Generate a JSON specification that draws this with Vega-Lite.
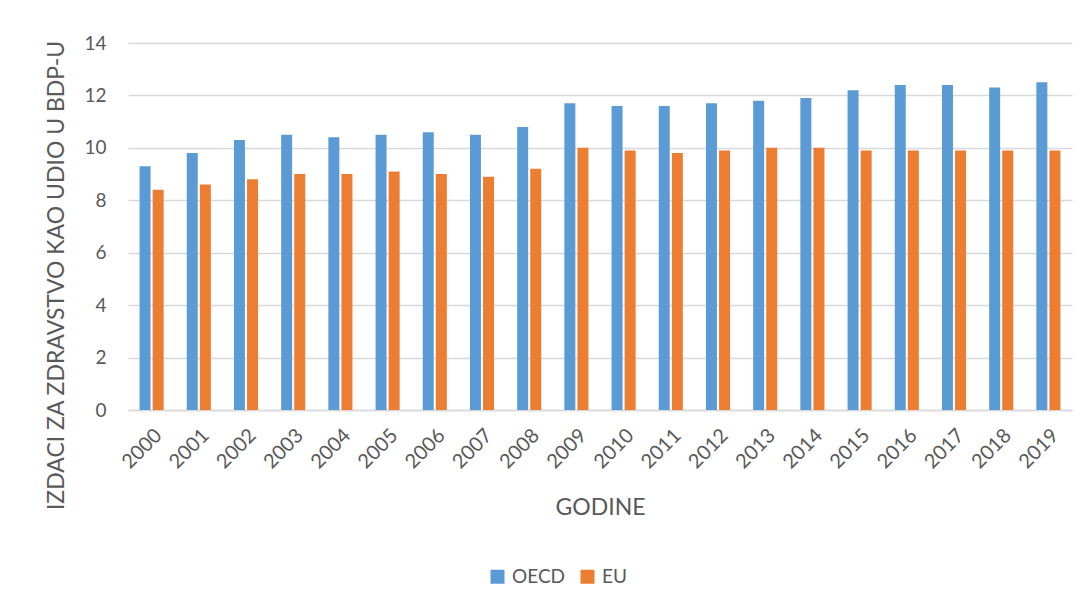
{
  "$schema": "https://vega.github.io/schema/vega-lite/v6.json",
  "autosize": "none",
  "width": 944,
  "height": 367,
  "padding": {"left": 128, "top": 43, "right": 19, "bottom": 198},
  "background": "white",
  "config": {
    "view": {"stroke": null},
    "font": "Lato",
    "axis": {"labelColor": "#595959", "titleColor": "#595959", "labelFont": "Lato", "titleFont": "Lato", "titleFontWeight": "normal"},
    "legend": {"labelColor": "#595959", "labelFont": "Lato"}
  },
  "data": {
    "values": [
      {"year": "2000", "series": "OECD", "value": 9.3}, {"year": "2000", "series": "EU", "value": 8.4},
      {"year": "2001", "series": "OECD", "value": 9.8}, {"year": "2001", "series": "EU", "value": 8.6},
      {"year": "2002", "series": "OECD", "value": 10.3}, {"year": "2002", "series": "EU", "value": 8.8},
      {"year": "2003", "series": "OECD", "value": 10.5}, {"year": "2003", "series": "EU", "value": 9.0},
      {"year": "2004", "series": "OECD", "value": 10.4}, {"year": "2004", "series": "EU", "value": 9.0},
      {"year": "2005", "series": "OECD", "value": 10.5}, {"year": "2005", "series": "EU", "value": 9.1},
      {"year": "2006", "series": "OECD", "value": 10.6}, {"year": "2006", "series": "EU", "value": 9.0},
      {"year": "2007", "series": "OECD", "value": 10.5}, {"year": "2007", "series": "EU", "value": 8.9},
      {"year": "2008", "series": "OECD", "value": 10.8}, {"year": "2008", "series": "EU", "value": 9.2},
      {"year": "2009", "series": "OECD", "value": 11.7}, {"year": "2009", "series": "EU", "value": 10.0},
      {"year": "2010", "series": "OECD", "value": 11.6}, {"year": "2010", "series": "EU", "value": 9.9},
      {"year": "2011", "series": "OECD", "value": 11.6}, {"year": "2011", "series": "EU", "value": 9.8},
      {"year": "2012", "series": "OECD", "value": 11.7}, {"year": "2012", "series": "EU", "value": 9.9},
      {"year": "2013", "series": "OECD", "value": 11.8}, {"year": "2013", "series": "EU", "value": 10.0},
      {"year": "2014", "series": "OECD", "value": 11.9}, {"year": "2014", "series": "EU", "value": 10.0},
      {"year": "2015", "series": "OECD", "value": 12.2}, {"year": "2015", "series": "EU", "value": 9.9},
      {"year": "2016", "series": "OECD", "value": 12.4}, {"year": "2016", "series": "EU", "value": 9.9},
      {"year": "2017", "series": "OECD", "value": 12.4}, {"year": "2017", "series": "EU", "value": 9.9},
      {"year": "2018", "series": "OECD", "value": 12.3}, {"year": "2018", "series": "EU", "value": 9.9},
      {"year": "2019", "series": "OECD", "value": 12.5}, {"year": "2019", "series": "EU", "value": 9.9}
    ]
  },
  "mark": {"type": "bar"},
  "encoding": {
    "x": {
      "field": "year", "type": "nominal",
      "scale": {"paddingInner": 0.49, "paddingOuter": 0.245},
      "axis": {
        "title": "GODINE", "titleFontSize": 23, "titleY": 104, "titleBaseline": "alphabetic",
        "labelAngle": -45, "labelFontSize": 20, "labelPadding": 15,
        "ticks": false, "domainColor": "#D9D9D9", "domainWidth": 1.5
      }
    },
    "xOffset": {"field": "series", "type": "nominal", "sort": ["OECD", "EU"], "scale": {"paddingInner": 0.16}},
    "y": {
      "field": "value", "type": "quantitative",
      "scale": {"domain": [0, 14], "nice": false},
      "axis": {
        "title": "IZDACI ZA ZDRAVSTVO KAO UDIO U BDP-U", "titleFontSize": 23,
        "titleX": -60, "titleY": 232, "titleAlign": "center", "titleBaseline": "bottom", "titleAngle": 270,
        "values": [0, 2, 4, 6, 8, 10, 12, 14], "labelFontSize": 19, "labelPadding": 22,
        "ticks": false, "domain": false, "gridColor": "#D9D9D9", "gridWidth": 1.5
      }
    },
    "color": {
      "field": "series", "type": "nominal", "sort": ["OECD", "EU"],
      "scale": {"domain": ["OECD", "EU"], "range": ["#5B9BD5", "#ED7D31"]},
      "legend": {
        "title": null, "orient": "none", "direction": "horizontal",
        "legendX": 360, "legendY": 524, "labelFontSize": 19,
        "symbolType": "square", "symbolSize": 196, "symbolStrokeWidth": 0,
        "columnPadding": 12, "labelOffset": 5
      }
    }
  }
}
